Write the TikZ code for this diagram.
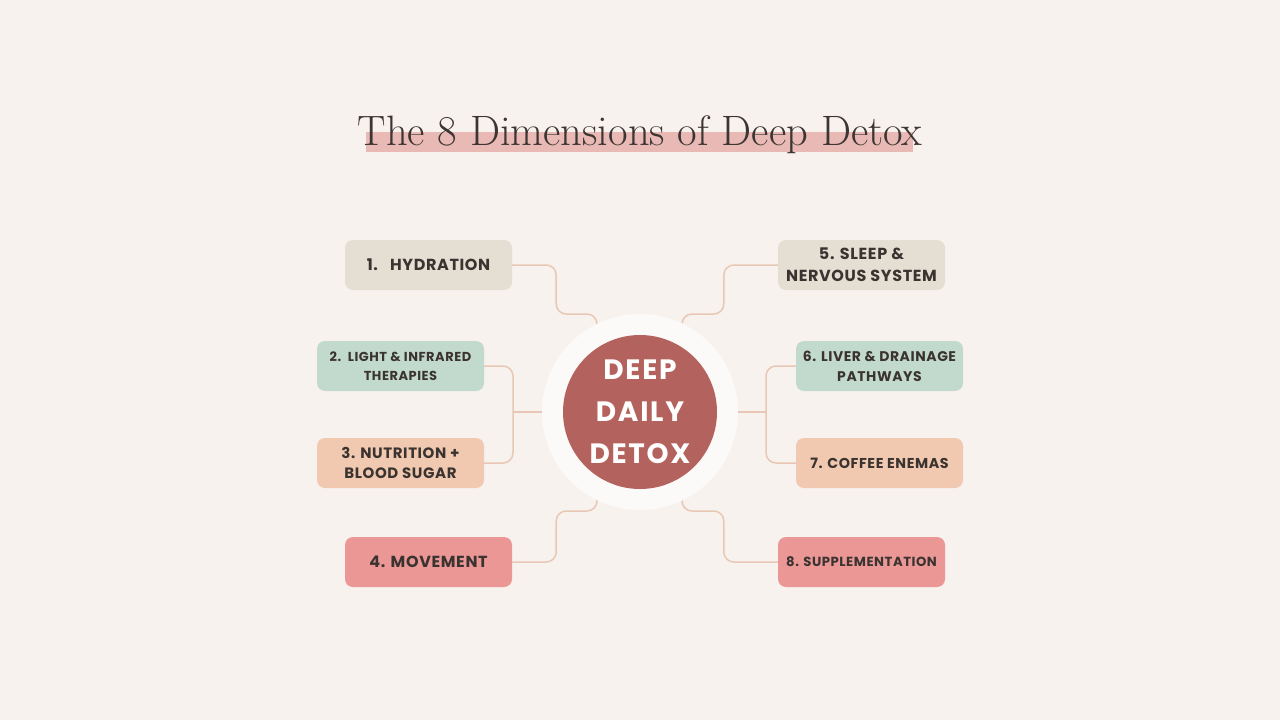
\documentclass[tikz,border=0pt]{standalone}
\usepackage{fontspec}
\newfontfamily\labelfont[LetterSpace=4]{Poppins}
\newfontfamily\hubfont[LetterSpace=6]{Poppins}
\usetikzlibrary{positioning}

\definecolor{bgcol}{HTML}{F7F2EE}
\definecolor{titlecol}{HTML}{3D3533}
\definecolor{barcol}{HTML}{E8B9B5}
\definecolor{sandcol}{HTML}{E5DED3}
\definecolor{sagecol}{HTML}{C2DACD}
\definecolor{peachcol}{HTML}{F0C9B0}
\definecolor{rosecol}{HTML}{EA9796}
\definecolor{ringcol}{HTML}{FCFAF8}
\definecolor{hubcol}{HTML}{B4625D}
\definecolor{linkcol}{HTML}{E8C8B5}
\definecolor{inkcol}{HTML}{3A3330}

\newcommand\boxsize[2]{\labelfont\bfseries\fontsize{#1}{#2}\selectfont}

\begin{document}
\begin{tikzpicture}[
  x=1pt, y=-1pt,
  box/.style={
    rounded corners=8pt,
    align=center,
    minimum width=167pt,
    minimum height=50pt,
    inner sep=0pt,
    text=inkcol,
    font=\boxsize{15}{22}
  },
  link/.style={draw=linkcol, line width=1.5pt, rounded corners=10pt}
]
\useasboundingbox[fill=bgcol] (0,0) rectangle (1280,720);

% title with highlight bar
\fill[barcol] (366,132) rectangle (913,152);
\node[anchor=base, text=titlecol, font=\fontsize{42.5}{50}\selectfont, inner sep=0pt]
  (title) at (640,145) {The 8 Dimensions of Deep Detox};

% boxes
\node[box, fill=sandcol, font=\boxsize{16}{22}] (hydration) at (428.5,265) {1.\ \ \ HYDRATION};
\node[box, fill=sagecol, font=\boxsize{13}{19}] (light) at (400.5,366) {2.\ \ LIGHT \& INFRARED\\THERAPIES};
\node[box, fill=peachcol, font=\boxsize{15}{20}] (nutrition) at (400.5,463) {3. NUTRITION +\\BLOOD SUGAR};
\node[box, fill=rosecol, font=\boxsize{16}{22}] (movement) at (428.5,562) {4. MOVEMENT};
\node[box, fill=sandcol, font=\boxsize{16}{22}] (sleep) at (861.5,265) {5. SLEEP \&\\NERVOUS SYSTEM};
\node[box, fill=sagecol, font=\boxsize{14}{20}] (liver) at (879.5,366) {6. LIVER \& DRAINAGE\\PATHWAYS};
\node[box, fill=peachcol, font=\boxsize{14.3}{22}] (coffee) at (879.5,463) {7. COFFEE ENEMAS};
\node[box, fill=rosecol, font=\boxsize{13.2}{22}] (supplement) at (861.5,562) {8. SUPPLEMENTATION};

% connectors
\coordinate (hubc) at (640,412);
\coordinate (j1) at (597,314);
\coordinate (j4) at (597,511);
\coordinate (j5) at (682,314);
\coordinate (j8) at (682,511);
\coordinate (spineL) at (513,412);
\coordinate (spineR) at (766,412);

\draw[link] (hydration.east) -- ++(44,0) |- (j1) |- (hubc);
\draw[link] (movement.east) -- ++(44,0) |- (j4) |- (hubc);
\draw[link] (sleep.west) -- ++(-54,0) |- (j5) |- (hubc);
\draw[link] (supplement.west) -- ++(-54,0) |- (j8) |- (hubc);
\draw[link] (light.east) -| (spineL) |- (nutrition.east);
\draw[link] (liver.west) -| (spineR) |- (coffee.west);
\draw[link] (spineL) -- (hubc);
\draw[link] (spineR) -- (hubc);

% centre
\node[circle, fill=ringcol, minimum size=196pt, inner sep=0pt] (ring) at (hubc) {};
\node[circle, fill=hubcol, minimum size=154pt, inner sep=0pt, text=white, align=center,
  font=\hubfont\bfseries\fontsize{28}{42}\selectfont] (hub) at (hubc) {DEEP\\DAILY\\DETOX};
\end{tikzpicture}
\end{document}
